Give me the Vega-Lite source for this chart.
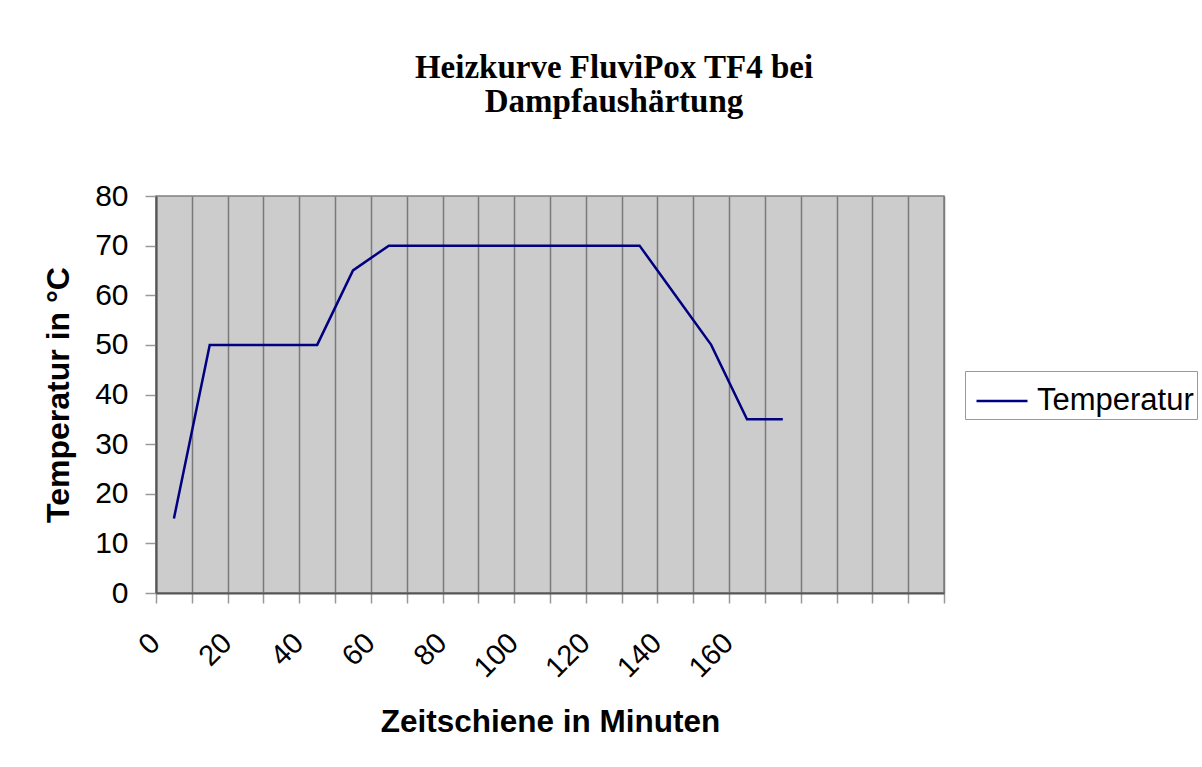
{
  "$schema": "https://vega.github.io/schema/vega-lite/v6.json",
  "width": 788,
  "height": 397,
  "autosize": {"type": "none"},
  "padding": {"left": 156, "top": 196, "right": 258, "bottom": 174},
  "background": "white",
  "title": {
    "text": ["Heizkurve FluviPox TF4 bei", "Dampfaushärtung"],
    "font": "Liberation Serif",
    "fontSize": 33,
    "fontWeight": "bold",
    "lineHeight": 34,
    "color": "black",
    "anchor": "middle",
    "frame": "group",
    "dx": 64,
    "offset": 62
  },
  "data": {
    "values": [
      {"minute": 0, "temperature": 15, "series": "Temperatur"},
      {"minute": 10, "temperature": 50, "series": "Temperatur"},
      {"minute": 20, "temperature": 50, "series": "Temperatur"},
      {"minute": 30, "temperature": 50, "series": "Temperatur"},
      {"minute": 40, "temperature": 50, "series": "Temperatur"},
      {"minute": 50, "temperature": 65, "series": "Temperatur"},
      {"minute": 60, "temperature": 70, "series": "Temperatur"},
      {"minute": 70, "temperature": 70, "series": "Temperatur"},
      {"minute": 80, "temperature": 70, "series": "Temperatur"},
      {"minute": 90, "temperature": 70, "series": "Temperatur"},
      {"minute": 100, "temperature": 70, "series": "Temperatur"},
      {"minute": 110, "temperature": 70, "series": "Temperatur"},
      {"minute": 120, "temperature": 70, "series": "Temperatur"},
      {"minute": 130, "temperature": 70, "series": "Temperatur"},
      {"minute": 140, "temperature": 60, "series": "Temperatur"},
      {"minute": 150, "temperature": 50, "series": "Temperatur"},
      {"minute": 160, "temperature": 35, "series": "Temperatur"},
      {"minute": 170, "temperature": 35, "series": "Temperatur"}
    ]
  },
  "mark": {"type": "line", "strokeWidth": 2.5},
  "encoding": {
    "x": {
      "field": "minute",
      "type": "quantitative",
      "scale": {"domain": [-5, 215], "nice": false, "zero": false},
      "axis": {
        "title": "Zeitschiene in Minuten",
        "values": [-5, 5, 15, 25, 35, 45, 55, 65, 75, 85, 95, 105, 115, 125, 135, 145, 155, 165, 175, 185, 195, 205, 215],
        "grid": true,
        "gridColor": "#7a7a7a",
        "gridWidth": 1.5,
        "gridOpacity": 1,
        "domainColor": "#555555",
        "domainWidth": 2,
        "tickColor": "#999999",
        "tickSize": 10,
        "tickWidth": 1.5,
        "labelExpr": "((datum.value + 5) % 20 == 0 && datum.value + 5 <= 160) ? format(datum.value + 5, 'd') : ''",
        "labelAngle": -45,
        "labelAlign": "right",
        "labelBaseline": "top",
        "labelOffset": -11,
        "labelPadding": 25,
        "labelFont": "Liberation Sans",
        "labelFontSize": 29,
        "labelColor": "black",
        "labelFlush": false,
        "labelOverlap": false,
        "labelBound": false,
        "titleFont": "Liberation Sans",
        "titleFontSize": 31.5,
        "titleFontWeight": "bold",
        "titleColor": "black",
        "titlePadding": 24
      }
    },
    "y": {
      "field": "temperature",
      "type": "quantitative",
      "scale": {"domain": [0, 80], "nice": false},
      "axis": {
        "title": "Temperatur in  °C",
        "values": [0, 10, 20, 30, 40, 50, 60, 70, 80],
        "grid": false,
        "domainColor": "#555555",
        "domainWidth": 2,
        "tickColor": "#999999",
        "tickSize": 11,
        "tickWidth": 1.5,
        "labelPadding": 17,
        "labelFont": "Liberation Sans",
        "labelFontSize": 30,
        "labelColor": "black",
        "labelFlush": false,
        "titleFont": "Liberation Sans",
        "titleFontSize": 32,
        "titleFontWeight": "bold",
        "titleColor": "black",
        "titlePadding": 19
      }
    },
    "color": {
      "field": "series",
      "type": "nominal",
      "scale": {"range": ["#000080"]},
      "legend": {
        "title": null,
        "orient": "none",
        "legendX": 809,
        "legendY": 175,
        "strokeColor": "#999999",
        "fillColor": "white",
        "padding": 3,
        "symbolOffset": 7,
        "symbolType": "stroke",
        "symbolSize": 2601,
        "symbolStrokeWidth": 2.5,
        "labelFont": "Liberation Sans",
        "labelFontSize": 31,
        "labelColor": "black",
        "labelOffset": 8
      }
    }
  },
  "config": {
    "view": {"fill": "#cccccc", "stroke": "#808080", "strokeWidth": 1.5}
  }
}
